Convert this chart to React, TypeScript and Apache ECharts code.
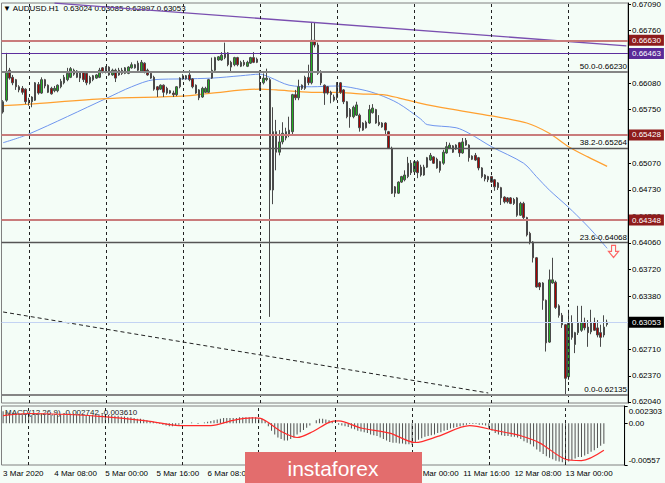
import React, { useEffect, useRef } from "react";
import * as echarts from "echarts";

// ---------- data ----------
const SYMBOL_TITLE = "▼ AUDUSD.H1  0.63024 0.63085 0.62997 0.63053";
const MACD_TITLE = "MACD(12,26,9) -0.002742 -0.003610";

const LABEL_BARS = [0, 16, 32, 48, 64, 128, 144, 160, 176];
const LABEL_TEXT = ["3 Mar 2020", "4 Mar 08:00", "5 Mar 00:00", "5 Mar 16:00", "6 Mar 08:00", "11 Mar 00:00", "11 Mar 16:00", "12 Mar 08:00", "13 Mar 00:00"];
const DAY_BARS = [8, 32, 56, 80, 104, 128, 152, 176];
const SLOT_COUNT = 195;

const PRICE_TICKS = [0.6709, 0.6676, 0.6642, 0.6608, 0.6575, 0.6541, 0.6507, 0.6473, 0.6439, 0.6406, 0.6372, 0.6338, 0.6304, 0.6271, 0.6237, 0.6204];
const PRICE_LABELS = [0.6709, 0.6676, 0.6642, 0.6608, 0.6575, 0.6507, 0.6473, 0.6439, 0.6406, 0.6372, 0.6338, 0.6271, 0.6237, 0.6204];
const MACD_TICKS = [0.002303, 0, -0.00557];
const MACD_TICK_TEXT = ["0.002303", "0.00", "-0.00557"];

const RED_LEVELS = [0.6663, 0.65428, 0.64348];
const PURPLE_LEVEL = 0.66463;
const FIB_PCTS = ["50.0", "38.2", "23.6", "0.0"];
const FIB_PRICES = [0.6623, 0.65264, 0.64068, 0.62135];
const LAST_PRICE = 0.63053;
const TREND_PURPLE = [[16, 0.67102], [194, 0.66559]];
const TREND_DOTTED = [[0, 0.63182], [151, 0.62154]];
const SELL_ARROW = [[190, 0.6395]];

// [open, high, low, close]
const CANDLES = [
  [0.6572,0.6587,0.6570,0.6585],[0.6587,0.6647,0.6585,0.6623],[0.6625,0.6628,0.6613,0.6615],[0.6616,0.6619,0.6606,0.6609],
  [0.6613,0.6614,0.6600,0.6604],[0.6604,0.6606,0.6597,0.6600],[0.6602,0.6605,0.6594,0.6597],[0.6601,0.6602,0.6582,0.6585],
  [0.6587,0.6590,0.6580,0.6585],[0.6585,0.6592,0.6578,0.6591],[0.6587,0.6610,0.6586,0.6609],[0.6607,0.6610,0.6594,0.6596],
  [0.6596,0.6616,0.6595,0.6613],[0.6613,0.6614,0.6602,0.6605],[0.6606,0.6607,0.6596,0.6597],[0.6602,0.6604,0.6594,0.6595],
  [0.6599,0.6605,0.6597,0.6602],[0.6599,0.6607,0.6597,0.6606],[0.6604,0.6614,0.6602,0.6611],[0.6609,0.6619,0.6607,0.6616],
  [0.6613,0.6628,0.6611,0.6621],[0.6616,0.6629,0.6615,0.6627],[0.6625,0.6627,0.6618,0.6620],[0.6624,0.6625,0.6615,0.6616],
  [0.6623,0.6624,0.6610,0.6615],[0.6623,0.6624,0.6610,0.6613],[0.6621,0.6623,0.6606,0.6609],[0.6609,0.6618,0.6607,0.6616],
  [0.6613,0.6619,0.6611,0.6618],[0.6615,0.6620,0.6614,0.6619],[0.6616,0.6628,0.6615,0.6625],[0.6628,0.6629,0.6621,0.6623],
  [0.6623,0.6630,0.6621,0.6629],[0.6629,0.6630,0.6618,0.6619],[0.6619,0.6627,0.6618,0.6625],[0.6625,0.6627,0.6610,0.6615],
  [0.6625,0.6628,0.6618,0.6619],[0.6625,0.6628,0.6619,0.6621],[0.6621,0.6629,0.6620,0.6628],[0.6621,0.6630,0.6620,0.6629],
  [0.6628,0.6635,0.6627,0.6632],[0.6628,0.6633,0.6627,0.6632],[0.6634,0.6637,0.6624,0.6625],[0.6624,0.6638,0.6623,0.6635],
  [0.6634,0.6635,0.6621,0.6623],[0.6625,0.6627,0.6618,0.6619],[0.6621,0.6623,0.6614,0.6615],[0.6616,0.6618,0.6599,0.6601],
  [0.6604,0.6605,0.6591,0.6600],[0.6601,0.6607,0.6600,0.6606],[0.6606,0.6607,0.6591,0.6597],[0.6602,0.6604,0.6594,0.6596],
  [0.6599,0.6600,0.6595,0.6596],[0.6596,0.6599,0.6591,0.6594],[0.6594,0.6605,0.6592,0.6604],[0.6604,0.6616,0.6602,0.6615],
  [0.6614,0.6620,0.6613,0.6618],[0.6614,0.6619,0.6613,0.6618],[0.6619,0.6625,0.6611,0.6613],[0.6614,0.6615,0.6602,0.6604],
  [0.6606,0.6607,0.6595,0.6596],[0.6600,0.6601,0.6587,0.6590],[0.6591,0.6604,0.6590,0.6602],[0.6597,0.6604,0.6596,0.6602],
  [0.6597,0.6614,0.6596,0.6613],[0.6615,0.6641,0.6614,0.6625],[0.6625,0.6642,0.6624,0.6641],[0.6638,0.6643,0.6637,0.6642],
  [0.6638,0.6648,0.6637,0.6644],[0.6641,0.6660,0.6639,0.6647],[0.6647,0.6648,0.6630,0.6632],[0.6635,0.6637,0.6624,0.6629],
  [0.6632,0.6642,0.6630,0.6641],[0.6641,0.6642,0.6630,0.6632],[0.6630,0.6637,0.6629,0.6635],[0.6635,0.6638,0.6630,0.6632],
  [0.6630,0.6637,0.6629,0.6635],[0.6634,0.6642,0.6633,0.6641],[0.6641,0.6648,0.6634,0.6635],[0.6639,0.6641,0.6634,0.6635],
  [0.6600,0.6625,0.6599,0.6609],[0.6609,0.6621,0.6607,0.6615],[0.6613,0.6627,0.6611,0.6615],[0.6613,0.6615,0.6312,0.6473],
  [0.6473,0.6578,0.6455,0.6547],[0.6547,0.6562,0.6498,0.6521],[0.6521,0.6549,0.6517,0.6534],[0.6534,0.6559,0.6531,0.6545],
  [0.6539,0.6552,0.6536,0.6547],[0.6543,0.6566,0.6540,0.6549],[0.6547,0.6595,0.6544,0.6594],[0.6594,0.6600,0.6587,0.6590],
  [0.6590,0.6613,0.6587,0.6604],[0.6606,0.6607,0.6600,0.6602],[0.6602,0.6618,0.6600,0.6616],[0.6616,0.6632,0.6606,0.6609],
  [0.6609,0.6686,0.6607,0.6663],[0.6663,0.6686,0.6654,0.6657],[0.6657,0.6660,0.6619,0.6621],[0.6621,0.6625,0.6606,0.6609],
  [0.6606,0.6607,0.6581,0.6596],[0.6604,0.6605,0.6594,0.6596],[0.6597,0.6599,0.6583,0.6594],[0.6587,0.6594,0.6585,0.6591],
  [0.6590,0.6610,0.6587,0.6609],[0.6609,0.6610,0.6595,0.6597],[0.6600,0.6601,0.6582,0.6585],[0.6585,0.6586,0.6564,0.6566],
  [0.6575,0.6577,0.6552,0.6566],[0.6566,0.6580,0.6564,0.6578],[0.6568,0.6585,0.6567,0.6581],[0.6568,0.6570,0.6547,0.6552],
  [0.6558,0.6559,0.6548,0.6549],[0.6552,0.6561,0.6551,0.6559],[0.6558,0.6581,0.6557,0.6575],[0.6571,0.6582,0.6570,0.6577],
  [0.6575,0.6576,0.6557,0.6558],[0.6559,0.6568,0.6554,0.6556],[0.6558,0.6559,0.6552,0.6553],[0.6558,0.6559,0.6543,0.6549],
  [0.6547,0.6548,0.6525,0.6526],[0.6526,0.6528,0.6468,0.6469],[0.6477,0.6478,0.6464,0.6469],[0.6469,0.6484,0.6468,0.6483],
  [0.6483,0.6491,0.6482,0.6490],[0.6486,0.6498,0.6484,0.6492],[0.6490,0.6515,0.6488,0.6507],[0.6507,0.6511,0.6492,0.6495],
  [0.6496,0.6510,0.6493,0.6509],[0.6509,0.6511,0.6488,0.6495],[0.6502,0.6505,0.6490,0.6492],[0.6492,0.6505,0.6491,0.6502],
  [0.6502,0.6515,0.6501,0.6514],[0.6511,0.6520,0.6510,0.6517],[0.6515,0.6516,0.6506,0.6507],[0.6512,0.6514,0.6500,0.6501],
  [0.6509,0.6510,0.6495,0.6498],[0.6507,0.6524,0.6505,0.6521],[0.6520,0.6534,0.6519,0.6528],[0.6526,0.6533,0.6525,0.6530],
  [0.6529,0.6530,0.6520,0.6521],[0.6525,0.6531,0.6524,0.6530],[0.6533,0.6534,0.6515,0.6520],[0.6520,0.6539,0.6519,0.6534],
  [0.6530,0.6539,0.6529,0.6536],[0.6530,0.6531,0.6509,0.6514],[0.6516,0.6517,0.6511,0.6512],[0.6517,0.6520,0.6510,0.6511],
  [0.6514,0.6515,0.6498,0.6501],[0.6501,0.6502,0.6488,0.6490],[0.6492,0.6493,0.6484,0.6487],[0.6490,0.6491,0.6483,0.6486],
  [0.6490,0.6491,0.6482,0.6483],[0.6486,0.6487,0.6472,0.6477],[0.6482,0.6483,0.6473,0.6476],[0.6476,0.6477,0.6454,0.6463],
  [0.6464,0.6465,0.6456,0.6458],[0.6463,0.6464,0.6456,0.6458],[0.6463,0.6464,0.6455,0.6456],[0.6461,0.6463,0.6454,0.6456],
  [0.6463,0.6464,0.6439,0.6441],[0.6441,0.6458,0.6440,0.6456],[0.6456,0.6458,0.6436,0.6438],[0.6438,0.6439,0.6414,0.6416],
  [0.6418,0.6420,0.6404,0.6407],[0.6407,0.6408,0.6381,0.6387],[0.6387,0.6388,0.6349,0.6350],[0.6355,0.6356,0.6346,0.6350],
  [0.6355,0.6356,0.6321,0.6333],[0.6333,0.6334,0.6268,0.6279],[0.6280,0.6372,0.6279,0.6359],[0.6355,0.6387,0.6354,0.6359],
  [0.6356,0.6358,0.6322,0.6324],[0.6326,0.6328,0.6311,0.6314],[0.6314,0.6317,0.6298,0.6302],[0.6302,0.6303,0.62135,0.6234],
  [0.6236,0.6321,0.6232,0.6304],[0.6304,0.6314,0.6283,0.6286],[0.6277,0.6293,0.6266,0.6292],[0.6292,0.6326,0.6289,0.6305],
  [0.6295,0.6326,0.6293,0.6305],[0.6305,0.6311,0.6295,0.6298],[0.6299,0.6308,0.6274,0.6292],[0.6293,0.6321,0.6290,0.6305],
  [0.6305,0.6311,0.6294,0.6295],[0.6298,0.6308,0.6286,0.6289],[0.6292,0.6302,0.6274,0.6286],[0.6289,0.6314,0.6286,0.6299],
  [0.63024,0.63085,0.62997,0.63053],
];

const MA_BLUE = [[0,0.6533],[8,0.6544],[32,0.6589],[40,0.6604],[47,0.6613],[56,0.6614],[65,0.6615],[74,0.6618],[80,0.6620],[83,0.6616],[89,0.6606],[96,0.6604],[104,0.6605],[112,0.6600],[117,0.6594],[123,0.6583],[130,0.6563],[132,0.6556],[141,0.6552],[145,0.6545],[152,0.6528],[162,0.6507],[166,0.6490],[170,0.6473],[176,0.6451],[181,0.6431],[184,0.6418],[188,0.6399]];
const MA_ORANGE = [[0,0.6580],[8,0.6582],[32,0.6589],[56,0.6592],[65,0.6596],[80,0.6601],[85,0.6600],[96,0.6597],[104,0.6597],[111,0.6595],[118,0.6594],[123,0.6590],[130,0.6583],[139,0.6576],[152,0.6567],[163,0.6558],[170,0.6545],[176,0.6528],[182,0.6515],[188,0.6503]];

const MACD_HIST = [
  0.0016,0.0015,0.0014,0.0014,
  0.0013,0.0013,0.0012,0.0012,0.0012,0.0011,0.0012,0.0012,0.0013,0.0012,0.0012,0.0011,0.0011,0.0011,0.0012,0.0012,0.0013,0.0013,0.0013,0.0012,0.0012,0.0011,0.0011,0.0011,0.0011,0.0011,0.0012,
  0.0012,0.0012,0.0011,0.0011,0.0010,0.0010,0.0009,0.0009,0.0008,0.0008,
  0.0007,0.0006,0.0006,0.0005,0.0004,0.0003,0.0002,0.0001,
  -0.0001,-0.0002,-0.0003,-0.0004,-0.0004,-0.0003,-0.0002,
  -0.0001,0,0,0.0001,0,-0.0001,0,0.0001,0.0002,
  0.0003,0.0004,0.0005,0.0006,0.0007,0.0007,0.0007,0.0007,0.0007,0.0008,0.0008,0.0008,0.0008,0.0008,0.0008,
  0.0007,0.0006,0.0004,
  -0.0004,-0.0010,-0.0015,-0.0019,-0.0021,-0.0023,-0.0023,-0.0021,-0.0019,-0.0015,-0.0012,-0.0009,-0.0006,-0.0003,0,
  0.0004,0.0006,0.0006,0.0005,0.0004,0.0002,0,
  -0.0002,-0.0003,-0.0004,-0.0005,-0.0007,-0.0008,-0.0010,-0.0011,-0.0012,-0.0013,-0.0015,-0.0016,-0.0017,-0.0019,-0.0021,-0.0023,-0.0025,-0.0026,-0.0026,-0.0027,-0.0027,-0.0028,-0.0028,-0.0029,
  -0.0025,-0.0022,-0.0020,-0.0018,-0.0017,-0.0016,-0.0015,-0.0013,-0.0012,-0.0010,-0.0009,-0.0007,-0.0006,-0.0005,-0.0004,-0.0003,-0.0002,-0.0001,-0.0001,-0.0001,-0.0002,-0.0002,-0.0003,
  -0.0006,-0.0010,-0.0013,-0.0015,-0.0016,-0.0017,-0.0017,-0.0018,-0.0018,-0.0019,-0.0021,-0.0024,-0.0026,-0.0028,-0.0031,-0.0035,-0.0038,-0.0041,-0.0044,-0.0046,-0.0048,-0.0050,-0.0051,-0.0052,-0.0053,
  -0.0051,-0.0049,-0.0047,-0.0045,-0.0045,-0.0043,-0.0041,-0.0038,-0.0036,-0.0033,-0.0030,-0.002742,
];
const MACD_SIGNAL = [[0,0.00102],[8,0.0013],[30,0.00093],[46,0.00026],[55,-0.00032],[65,-0.00032],[72,0.00039],[78,0.00071],[81,0.00058],[87,-0.00109],[92,-0.0019],[97,-0.00109],[102,0.00012],[105,0.00031],[112,-0.00063],[121,-0.00131],[129,-0.00257],[136,-0.00176],[146,-0.00032],[154,-0.00095],[162,-0.00167],[168,-0.00265],[176,-0.0048],[181,-0.00499],[188,-0.00361]];

const WATERMARK = "instaforex";

// ---------- chart ----------
const FONT = "'Liberation Sans', 'DejaVu Sans', Arial, sans-serif";
const BG = "#f4fdf7";

function buildOption() {
  const categories = Array.from({ length: SLOT_COUNT }, (_, i) => String(i));
  const candleData = CANDLES.map(([o, h, l, c]) => [o, c, l, h]);

  const boxLabel = (text: string, bg: string) => ({
    show: true, position: "end", formatter: text, backgroundColor: bg, color: "#fff",
    padding: [2, 3, 1, 3], distance: 1, fontSize: 8, fontFamily: FONT,
  });
  const dayLines = DAY_BARS.map((b) => ({ xAxis: b, lineStyle: { color: "#222", type: [3, 3], width: 1 }, label: { show: false } }));

  const levelMarks: any[] = [
    ...RED_LEVELS.map((p) => ({ yAxis: p, lineStyle: { color: "#c97c7c", width: 2, type: "solid" }, label: boxLabel(p.toFixed(5), "#8e1c1c") })),
    { yAxis: PURPLE_LEVEL, lineStyle: { color: "#5d2f9e", width: 1.2, type: "solid" }, label: boxLabel(PURPLE_LEVEL.toFixed(5), "#5a2a98") },
    ...FIB_PRICES.map((p, i) => ({
      yAxis: p,
      lineStyle: { color: i === 0 || i === 3 ? "#858585" : "#555", width: i === 0 || i === 3 ? 2 : 1.3, type: "solid" },
      label: { show: true, position: "insideEndTop", formatter: `${FIB_PCTS[i]}-${p.toFixed(5)}`, color: "#000", fontSize: 8, distance: 1, fontFamily: FONT },
    })),
    { yAxis: LAST_PRICE, lineStyle: { color: "#c3d3f3", width: 1, type: "solid" }, label: boxLabel(LAST_PRICE.toFixed(5), "#000") },
  ];
  const trendMarks: any[] = [
    [
      { coord: TREND_PURPLE[0], lineStyle: { color: "#7a4fb0", width: 1.4, type: "solid" }, label: { show: false } },
      { coord: TREND_PURPLE[1], lineStyle: { color: "#7a4fb0", width: 1.4, type: "solid" } },
    ],
    [
      { coord: TREND_DOTTED[0], lineStyle: { color: "#222", width: 1, type: [4, 3] }, label: { show: false } },
      { coord: TREND_DOTTED[1], lineStyle: { color: "#222", width: 1, type: [4, 3] } },
    ],
    ...dayLines,
  ];

  return {
    animation: false,
    backgroundColor: BG,
    textStyle: { fontFamily: FONT },
    title: [
      { text: SYMBOL_TITLE, left: 3, top: 4, padding: 0, z: 1, textStyle: { fontSize: 8, fontWeight: "normal", color: "#000", fontFamily: FONT } },
      { text: MACD_TITLE, left: 5, top: 408, padding: 0, z: 1, textStyle: { fontSize: 8, fontWeight: "normal", color: "#222", fontFamily: FONT } },
    ],
    grid: [
      { left: 1.5, top: 3, width: 626.5, height: 400, show: true, borderColor: "#808080", borderWidth: 1 },
      { left: 1.5, top: 406, width: 626.5, height: 59, show: true, borderColor: "#808080", borderWidth: 1 },
    ],
    xAxis: [
      { type: "category", gridIndex: 0, data: categories, boundaryGap: true, axisLine: { show: false }, axisTick: { show: false }, axisLabel: { show: false }, splitLine: { show: false } },
      {
        type: "category", gridIndex: 1, data: categories, boundaryGap: true, axisLine: { show: false }, axisTick: { show: false }, splitLine: { show: false },
        axisLabel: {
          show: true, interval: (i: number) => LABEL_BARS.includes(i), formatter: (_v: string, i: number) => { const k = LABEL_BARS.indexOf(i); return k >= 0 ? LABEL_TEXT[k] : ""; },
          align: "left", fontSize: 8, color: "#000", margin: 4, fontFamily: FONT,
        },
      },
    ],
    yAxis: [
      {
        type: "value", gridIndex: 0, position: "right", min: 0.62027, max: 0.67103,
        axisLine: { show: true, lineStyle: { color: "#000", width: 1 } },
        axisTick: { show: true, customValues: PRICE_TICKS, length: 3, lineStyle: { color: "#000" } },
        axisLabel: { show: true, customValues: PRICE_LABELS, formatter: (v: number) => v.toFixed(5), fontSize: 8, color: "#000", margin: 4, fontFamily: FONT },
        splitLine: { show: false },
      },
      {
        type: "value", gridIndex: 1, position: "right", min: -0.00557, max: 0.002303,
        axisLine: { show: true, lineStyle: { color: "#000", width: 1 } },
        axisTick: { show: true, customValues: MACD_TICKS, length: 3, lineStyle: { color: "#000" } },
        axisLabel: {
          show: true, customValues: MACD_TICKS, fontSize: 8, color: "#000", margin: 4, fontFamily: FONT,
          formatter: (v: number) => {
            const k = MACD_TICKS.findIndex((t) => Math.abs(t - v) < 1e-9);
            if (k < 0) return "";
            if (k === 0) return `{top|${MACD_TICK_TEXT[k]}}`;
            if (k === MACD_TICKS.length - 1) return `{bot|${MACD_TICK_TEXT[k]}}`;
            return MACD_TICK_TEXT[k];
          },
          rich: {
            top: { fontSize: 8, color: "#000", fontFamily: FONT, padding: [11, 0, 0, 0] },
            bot: { fontSize: 8, color: "#000", fontFamily: FONT, padding: [0, 0, 9, 0] },
          },
        },
        splitLine: { show: false },
      },
    ],
    series: [
      {
        type: "candlestick", xAxisIndex: 0, yAxisIndex: 0, data: candleData, barWidth: 2,
        itemStyle: { color: "#22b022", color0: "#a80000", borderColor: "#4a4a4a", borderColor0: "#4a4a4a", borderWidth: 1 },
        markLine: { silent: true, symbol: ["none", "none"], precision: 6, animation: false, data: trendMarks },
        z: 3,
      },
      {
        type: "line", xAxisIndex: 0, yAxisIndex: 0, data: MA_BLUE, smooth: 0.3, symbol: "none", lineStyle: { color: "#6f95ee", width: 1 }, z: 2,
        markLine: { silent: true, symbol: ["none", "none"], precision: 6, animation: false, data: levelMarks },
      },
      { type: "line", xAxisIndex: 0, yAxisIndex: 0, data: MA_ORANGE, smooth: 0.3, symbol: "none", lineStyle: { color: "#ffa030", width: 1.2 }, z: 2 },
      {
        type: "scatter", xAxisIndex: 0, yAxisIndex: 0, data: SELL_ARROW,
        symbol: "path://M3,0 L7,0 L7,6 L10,6 L5,12 L0,6 L3,6 Z", symbolSize: [10, 12],
        itemStyle: { color: BG, borderColor: "#ff4040", borderWidth: 1.2 }, z: 4,
      },
      {
        type: "bar", xAxisIndex: 1, yAxisIndex: 1, data: MACD_HIST, barWidth: 1,
        itemStyle: { color: "#505050" },
        markLine: { silent: true, symbol: ["none", "none"], precision: 6, animation: false, data: dayLines },
      },
      { type: "line", xAxisIndex: 1, yAxisIndex: 1, data: MACD_SIGNAL, smooth: 0.3, symbol: "none", lineStyle: { color: "#ff2a2a", width: 1.2 }, z: 4 },
    ],
    graphic: [
      {
        type: "group", left: 245, top: 452, z: 100,
        children: [
          { type: "rect", shape: { x: 0, y: 0, width: 177, height: 31 }, style: { fill: "#e36d6d" }, z: 100 },
          {
            type: "text", x: 88, y: 16, z: 101,
            style: { text: WATERMARK, fill: "#fff", font: `21px ${FONT}`, textAlign: "center", textVerticalAlign: "middle", align: "center", verticalAlign: "middle" },
          },
        ],
      },
    ],
  };
}

export default function App() {
  const ref = useRef<HTMLDivElement>(null);
  useEffect(() => {
    if (!ref.current) return;
    const chart = echarts.init(ref.current, null, { renderer: "svg" });
    chart.setOption(buildOption() as any);
    return () => chart.dispose();
  }, []);
  return <div ref={ref} style={{ position: "fixed", left: 0, top: 0, width: 665, height: 483, background: BG }} />;
}
